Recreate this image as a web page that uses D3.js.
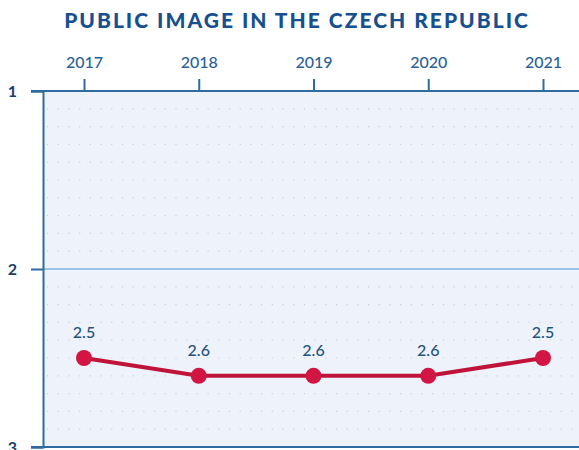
<!DOCTYPE html>
<html><head><meta charset="utf-8">
<script src="https://cdn.jsdelivr.net/npm/d3@7"></script>
<style>body{margin:0;background:#fff}svg{display:block}</style>
</head><body>
<script>
const years = [2017, 2018, 2019, 2020, 2021];
const values = [2.5, 2.6, 2.6, 2.6, 2.5];
const valueLabels = ["2.5", "2.6", "2.6", "2.6", "2.5"];
const yTicks = [1, 2, 3];
const yTickLabels = ["1", "2", "3"];
const title = "PUBLIC IMAGE IN THE CZECH REPUBLIC";

const W = 579, H = 450;
const svg = d3.select("body").append("svg").attr("width", W).attr("height", H);
const plotL = 43, plotR = 579, plotT = 91, plotB = 447;
const x = d3.scaleLinear().domain([2017, 2021]).range([84, 543]);
const y = d3.scaleLinear().domain([1, 3]).range([plotT, plotB]);
const axisColor = "#2f6b9e";

svg.append("text").attr("x", 297).attr("y", 28).attr("text-anchor", "middle")
  .attr("font-family", "Lato").attr("font-weight", 900).attr("font-size", 21)
  .attr("letter-spacing", 2).attr("fill", "#17508f").text(title);

svg.append("rect").attr("x", plotL).attr("y", plotT).attr("width", plotR - plotL).attr("height", plotB - plotT)
  .attr("fill", "#eef3fb");

// dotted grid
const gridVals = d3.range(11, 30).map(d => d / 10);
svg.append("g").selectAll("line").data(gridVals).join("line")
  .attr("x1", plotL + 4).attr("x2", plotR).attr("y1", d => y(d)).attr("y2", d => y(d))
  .attr("stroke", "#c4d2e2").attr("stroke-width", 1.2).attr("stroke-dasharray", "1.2,9.5");

// y=2 line
svg.append("line").attr("x1", plotL).attr("x2", plotR).attr("y1", y(2)).attr("y2", y(2))
  .attr("stroke", "#9cc4e6").attr("stroke-width", 2);

// top axis
const topAxis = svg.append("g").attr("transform", `translate(0,${plotT})`)
  .call(d3.axisTop(x).tickValues(years).tickFormat(d3.format("d")).tickSize(12).tickPadding(11));
topAxis.select(".domain").remove();
topAxis.selectAll(".tick line").attr("stroke", axisColor).attr("stroke-width", 2);
topAxis.selectAll(".tick text").attr("font-family", "Lato").attr("font-weight", 500).attr("font-size", 16).attr("fill", "#2a5f96");
svg.append("line").attr("x1", 31).attr("x2", plotR).attr("y1", plotT).attr("y2", plotT)
  .attr("stroke", axisColor).attr("stroke-width", 2);
svg.append("line").attr("x1", 31).attr("x2", plotR).attr("y1", plotB).attr("y2", plotB)
  .attr("stroke", axisColor).attr("stroke-width", 2);

// left axis
const leftAxis = svg.append("g").attr("transform", `translate(${plotL},0)`)
  .call(d3.axisLeft(y).tickValues(yTicks).tickFormat((d, i) => yTickLabels[i]).tickSize(12).tickPadding(14));
leftAxis.select(".domain").attr("stroke", axisColor).attr("stroke-width", 2);
leftAxis.selectAll(".tick line").attr("stroke", axisColor).attr("stroke-width", 2);
leftAxis.selectAll(".tick text").attr("font-family", "Lato").attr("font-weight", 700).attr("font-size", 16).attr("fill", "#1d3e66");

// line
svg.append("path").datum(years.map((yr, i) => [yr, values[i]]))
  .attr("d", d3.line().x(d => x(d[0])).y(d => y(d[1])))
  .attr("fill", "none").attr("stroke", "#c0133a").attr("stroke-width", 4);
svg.append("g").selectAll("circle").data(years).join("circle")
  .attr("cx", d => x(d)).attr("cy", (d, i) => y(values[i])).attr("r", 8)
  .attr("fill", "#d21543");
svg.append("g").selectAll("text").data(years).join("text")
  .attr("x", d => x(d)).attr("y", (d, i) => y(values[i]) - 20).attr("text-anchor", "middle")
  .attr("font-family", "Lato").attr("font-weight", 500).attr("font-size", 16).attr("fill", "#24527f")
  .text((d, i) => valueLabels[i]);
</script>
</body></html>
